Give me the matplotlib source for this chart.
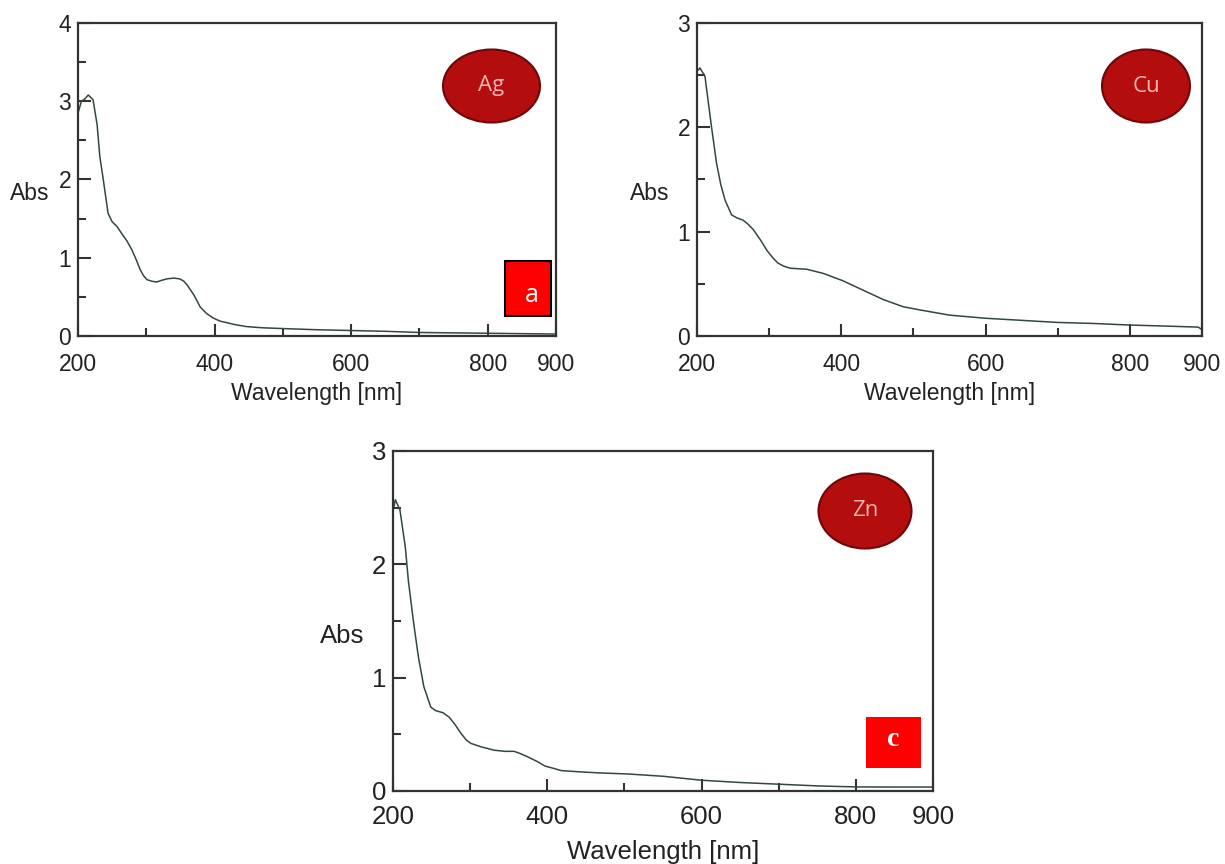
import numpy as np
import matplotlib
matplotlib.use("Agg")
import matplotlib.pyplot as plt
from matplotlib.patches import Ellipse, Rectangle

# Ag spectrum
ag_wl = [200, 205, 210, 215, 222, 228, 232, 237, 244, 250, 257, 264, 272, 279, 285,
         291, 296, 301, 308, 315, 322, 330, 340, 349, 355, 360, 370, 379, 388, 398,
         408, 418, 430, 447, 470, 500, 550, 600, 650, 700, 750, 800, 850, 900]
ag_abs = [2.85, 3.0, 3.03, 3.08, 3.02, 2.7, 2.29, 2.0, 1.57, 1.46, 1.40, 1.31, 1.21, 1.10, 0.98,
          0.85, 0.77, 0.72, 0.70, 0.69, 0.71, 0.73, 0.74, 0.73, 0.70, 0.65, 0.52, 0.37, 0.29, 0.23,
          0.19, 0.17, 0.145, 0.12, 0.105, 0.095, 0.08, 0.07, 0.06, 0.045, 0.04, 0.035, 0.03, 0.025]

# Cu spectrum
cu_wl = [202, 204, 211, 220, 227, 233, 239, 248, 256, 264, 271, 278, 288, 297, 305,
         312, 320, 329, 340, 352, 375, 402, 430, 458, 486, 509, 550, 600, 650, 700,
         750, 800, 850, 895, 900]
cu_abs = [2.55, 2.57, 2.49, 2.01, 1.66, 1.45, 1.30, 1.16, 1.13, 1.11, 1.07, 1.02, 0.92, 0.82, 0.75,
          0.70, 0.67, 0.65, 0.645, 0.64, 0.60, 0.53, 0.44, 0.35, 0.28, 0.25, 0.20, 0.17, 0.15, 0.13,
          0.12, 0.105, 0.095, 0.085, 0.06]

# Zn spectrum
zn_wl = [201, 203, 209, 216, 220, 227, 233, 240, 249, 255, 265, 273, 280, 288, 295,
         301, 314, 331, 345, 357, 365, 375, 387, 397, 408, 418, 440, 466, 505, 550,
         600, 650, 700, 750, 800, 850, 900]
zn_abs = [2.5, 2.57, 2.48, 2.15, 1.85, 1.47, 1.18, 0.92, 0.74, 0.71, 0.69, 0.65, 0.59, 0.51, 0.45,
          0.42, 0.39, 0.36, 0.35, 0.35, 0.33, 0.30, 0.26, 0.22, 0.20, 0.18, 0.17, 0.16, 0.15, 0.13,
          0.095, 0.075, 0.06, 0.045, 0.036, 0.035, 0.035]

x_ticks = [200, 400, 600, 800, 900]
x_minor = [300, 500, 700]

W, H = 1225, 864
fig = plt.figure(figsize=(W / 100, H / 100), dpi=100)
fig.patch.set_facecolor("white")


def box(l, t, r, b):
    # pixel box -> figure fraction rect
    return [l / W, 1 - b / H, (r - l) / W, (b - t) / H]


def panel(rect, wl, ab, ymax, fs, xpad, xl_y, yl_x):
    ax = fig.add_axes(rect)
    ax.plot(wl, ab, color="#34483a", lw=1.1)
    ax.set_xlim(200, 900)
    ax.set_ylim(0, ymax)
    ax.set_xticks(x_ticks)
    ax.set_xticks(x_minor, minor=True)
    ax.set_yticks(np.arange(0, ymax + 0.1, 1))
    ax.set_yticks(np.arange(0.5, ymax, 1), minor=True)
    ax.tick_params(which="both", direction="in", width=1.5, color="#333333",
                   labelsize=fs, labelcolor="#222222")
    ax.tick_params(which="major", length=9)
    ax.tick_params(which="minor", length=5.5)
    ax.tick_params(axis="x", pad=xpad)
    ax.tick_params(axis="y", pad=5)
    for s in ax.spines.values():
        s.set_linewidth(1.6)
        s.set_color("#333333")
    for lab in ax.get_xticklabels() + ax.get_yticklabels():
        lab.set_fontfamily("Liberation Sans")
    ax.set_xlabel("Wavelength [nm]", fontsize=fs, family="Liberation Sans", color="#222222",
                  va="center")
    ax.xaxis.set_label_coords(0.5, xl_y)
    ax.set_ylabel("Abs", fontsize=fs, family="Liberation Sans", color="#222222", rotation=0,
                  va="center", ha="center")
    ax.yaxis.set_label_coords(yl_x, 0.455)
    return ax


def badge(cx, cy, w, h, txt, fs):
    e = Ellipse((cx / W, 1 - cy / H), w / W, h / H, transform=fig.transFigure,
                facecolor="#b30d0d", edgecolor="#6e0808", lw=1.5)
    fig.patches.append(e)
    fig.text(cx / W, 1 - cy / H, txt, ha="center", va="center", fontsize=fs,
             color="#f4b4b4", family="Open Sans")


ax_ag = panel(box(78, 23, 556, 336), ag_wl, ag_abs, 4, 16.5, 12.5, -0.185, -0.10)
ax_cu = panel(box(697, 23, 1202, 336), cu_wl, cu_abs, 3, 16.5, 12.5, -0.185, -0.093)
ax_zn = panel(box(393, 451, 933, 791), zn_wl, zn_abs, 3, 18.5, 10, -0.18, -0.094)

badge(491.5, 86, 97, 73, "Ag", 16)
badge(1146, 86, 88, 73, "Cu", 16)
badge(865, 511, 93, 75, "Zn", 16)

# red letter boxes
r = Rectangle((505 / W, 1 - 316 / H), 46 / W, 55 / H, transform=fig.transFigure,
              facecolor="#ff0000", edgecolor="black", lw=1.5)
fig.patches.append(r)
fig.text(532 / W, 1 - 295 / H, "a", ha="center", va="center", fontsize=18,
         color="white", family="Open Sans")

r = Rectangle((866 / W, 1 - 768 / H), 55 / W, 51 / H, transform=fig.transFigure,
              facecolor="#ff0000", edgecolor="none")
fig.patches.append(r)
fig.text(893 / W, 1 - 740 / H, "c", ha="center", va="center", fontsize=20,
         color="white", family="Liberation Serif", weight="bold")

plt.savefig("out.png", dpi=100, facecolor="white")
